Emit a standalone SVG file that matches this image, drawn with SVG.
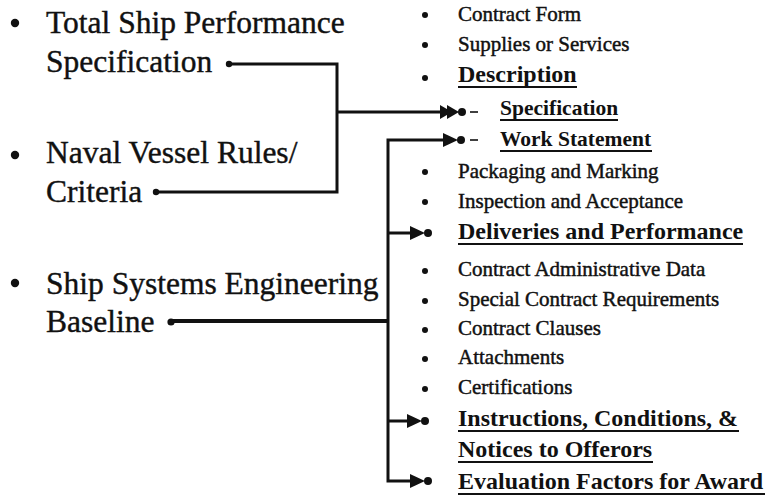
<svg xmlns="http://www.w3.org/2000/svg" xmlns:xlink="http://www.w3.org/1999/xlink" width="767" height="498" viewBox="0 0 767 498">
<style>
.big{font-family:"Liberation Serif","Times New Roman",serif;font-size:31.5px;fill:#111;stroke:#111;stroke-width:0.4}
.sm{font-family:"Liberation Serif","Times New Roman",serif;font-size:21px;fill:#111;stroke:#111;stroke-width:0.45}
.hd{font-family:"Liberation Serif","Times New Roman",serif;font-size:24px;font-weight:bold;fill:#111}
.sub{font-family:"Liberation Serif","Times New Roman",serif;font-size:21.5px;font-weight:bold;fill:#111}
.ul{stroke:#111;stroke-width:2.2}
.dash{stroke:#111;stroke-width:1.6}
.conn{fill:none;stroke:#111;stroke-width:3;stroke-linejoin:miter}
.thick{stroke-width:4}
.dot{fill:#111}
</style>
<defs>
<g id="tip"><polygon points="-15,-7 0,0 -15,7" fill="#111"/><circle cx="3" cy="0" r="4" fill="#111"/></g>
<g id="tip2"><polygon points="-19,-7 -7,0 -19,7" fill="#111"/><polygon points="-12,-7 0,0 -12,7" fill="#111"/><circle cx="3" cy="0" r="4" fill="#111"/></g>
</defs>

<g id="connectors">
<path class="conn" d="M228,64 H337 V192 H155"/>
<path class="conn" d="M337,112 H445"/>
<path class="conn thick" d="M170,321 H388"/>
<path class="conn" d="M445,140 H388 V481 H414"/>
<path class="conn" d="M388,233 H414"/>
<path class="conn" d="M388,421 H411"/>
<use xlink:href="#tip2" x="459" y="112"/>
<use xlink:href="#tip" x="458" y="140"/>
<use xlink:href="#tip" x="425" y="233"/>
<use xlink:href="#tip" x="422" y="421"/>
<use xlink:href="#tip" x="425" y="481"/>
</g>

<g id="tsps">
<circle class="dot" cx="15" cy="23" r="4.2"/>
<text class="big" x="46" y="33">Total Ship Performance</text>
<text class="big" x="46" y="72">Specification</text>
<circle class="dot" cx="229" cy="64" r="3.2"/>
</g>
<g id="nvr">
<circle class="dot" cx="15" cy="155" r="4.2"/>
<text class="big" x="46" y="163">Naval Vessel Rules/</text>
<text class="big" x="46" y="202">Criteria</text>
<circle class="dot" cx="156" cy="192" r="3.2"/>
</g>
<g id="sseb">
<circle class="dot" cx="15" cy="283" r="4.2"/>
<text class="big" x="46" y="294">Ship Systems Engineering</text>
<text class="big" x="46" y="332">Baseline</text>
<circle class="dot" cx="171" cy="322" r="3.6"/>
</g>

<g id="contract-form"><circle class="dot" cx="425" cy="15" r="3"/><text class="sm" x="458" y="21">Contract Form</text></g>
<g id="supplies"><circle class="dot" cx="425" cy="45" r="3"/><text class="sm" x="458" y="51">Supplies or Services</text></g>
<g id="description"><circle class="dot" cx="425" cy="78" r="3"/><text class="hd" x="458" y="82">Description</text><line class="ul" x1="458" y1="87" x2="577" y2="87"/></g>
<g id="specification"><line class="dash" x1="470" y1="112" x2="478" y2="112"/><text class="sub" x="500" y="115">Specification</text><line class="ul" x1="500" y1="120" x2="618" y2="120"/></g>
<g id="work-statement"><line class="dash" x1="470" y1="140" x2="478" y2="140"/><text class="sub" x="500" y="146">Work Statement</text><line class="ul" x1="500" y1="151" x2="652" y2="151"/></g>
<g id="packaging"><circle class="dot" cx="425" cy="172" r="3"/><text class="sm" x="458" y="178">Packaging and Marking</text></g>
<g id="inspection"><circle class="dot" cx="425" cy="202" r="3"/><text class="sm" x="458" y="208">Inspection and Acceptance</text></g>
<g id="deliveries"><text class="hd" x="458" y="239">Deliveries and Performance</text><line class="ul" x1="458" y1="244" x2="743" y2="244"/></g>
<g id="admin-data"><circle class="dot" cx="425" cy="271" r="3"/><text class="sm" x="458" y="276">Contract Administrative Data</text></g>
<g id="special"><circle class="dot" cx="425" cy="301" r="3"/><text class="sm" x="458" y="306">Special Contract Requirements</text></g>
<g id="clauses"><circle class="dot" cx="425" cy="330" r="3"/><text class="sm" x="458" y="335">Contract Clauses</text></g>
<g id="attachments"><circle class="dot" cx="425" cy="359" r="3"/><text class="sm" x="458" y="364">Attachments</text></g>
<g id="certifications"><circle class="dot" cx="425" cy="389" r="3"/><text class="sm" x="458" y="394">Certifications</text></g>
<g id="instructions"><text class="hd" x="458" y="426">Instructions, Conditions, &amp;</text><line class="ul" x1="458" y1="431" x2="739" y2="431"/><text class="hd" x="458" y="457">Notices to Offerors</text><line class="ul" x1="458" y1="462" x2="653" y2="462"/></g>
<g id="evaluation"><text class="hd" x="458" y="489">Evaluation Factors for Award</text><line class="ul" x1="458" y1="494" x2="765" y2="494"/></g>
</svg>
